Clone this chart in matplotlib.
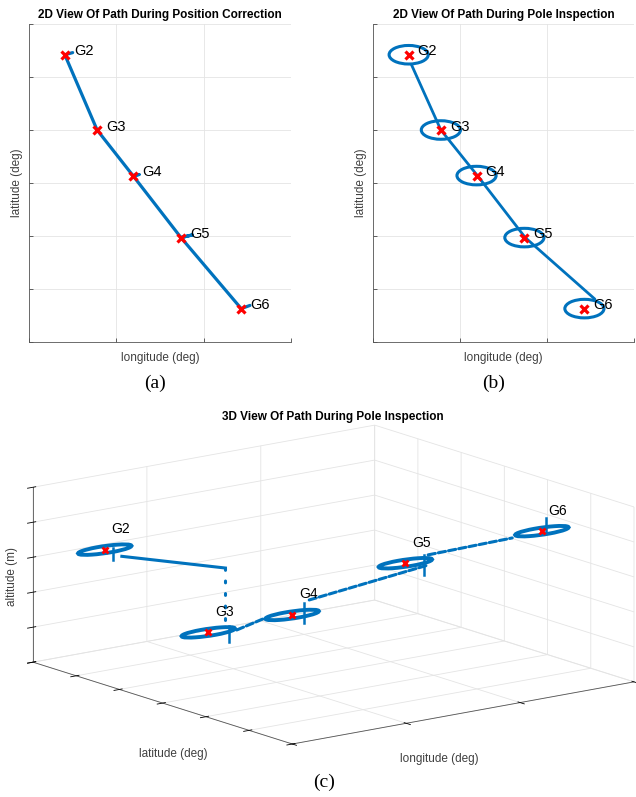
import numpy as np
import matplotlib
matplotlib.use('Agg')
import matplotlib.pyplot as plt
from matplotlib.patches import Ellipse
from mpl_toolkits.mplot3d import art3d, proj3d

plt.rcParams['font.family'] = ['Liberation Sans', 'DejaVu Sans']
plt.rcParams['grid.color'] = '#e4e4e4'
plt.rcParams['grid.linewidth'] = 0.6

BLUE = '#0072BD'
RED = '#FF0000'
GRAY = '#262626'
LABEL = '#404040'

############################### donnees ###############################
# axes sans graduations chiffrees : unites = intervalles de grille
names = ['G2', 'G3', 'G4', 'G5', 'G6']
wp_lon = [0.41, 0.78, 1.19, 1.74, 2.43]
wp_lat = [5.42, 4.00, 3.14, 1.97, 0.63]
wp_alt = [3.20, 1.17, 1.76, 3.37, 4.40]

# (a) trajet correction de position
path_a_lon = [0.50, 0.41, 0.78, 1.19, 1.26, 1.19, 1.74, 1.87, 1.74, 2.43, 2.53]
path_a_lat = [5.46, 5.42, 4.00, 3.14, 3.16, 3.14, 1.97, 2.02, 1.97, 0.63, 0.69]

# (b) trajet inspection (lignes entre les boucles)
path_b_lon = [0.44, 0.78, 1.20, 1.75, 2.55]
path_b_lat = [5.24, 4.00, 3.14, 1.97, 0.81]
loop_w, loop_h = 0.45, 0.35

# (c) transits 3D
leg_lon = [[0.56, 0.93], [0.93, 0.93], [1.03, 0.95], [1.34, 1.94], [1.94, 2.17]]
leg_lat = [[5.42, 4.00], [4.00, 4.00], [4.00, 3.14], [3.14, 1.97], [1.97, 0.63]]
leg_alt = [[2.92, 2.92], [2.92, 1.17], [1.09, 1.81], [2.10, 3.20], [3.49, 4.36]]
leg_style = ['-', (0, (0.6, 3.5)), (0, (2.4, 1.0)), (0, (2.4, 1.0)), (0, (2.4, 1.0))]
# petits sauts verticaux pres des boucles
spk_lon = [0.48, 0.96, 1.29, 1.905, 2.47]
spk_lat = [5.42, 4.00, 3.14, 1.97, 0.63]
spk_z0 = [3.20, 0.80, 1.47, 2.93, 4.35]
spk_z1 = [2.86, 1.25, 2.04, 3.50, 4.75]

############################### figure ###############################
W, H = 636, 797
fig = plt.figure(figsize=(W / 100, H / 100), dpi=100)


def style_2d(ax, title):
    ax.set_xlim(0, 3)
    ax.set_ylim(0, 6)
    ax.set_xticks(range(4))
    ax.set_yticks(range(7))
    ax.set_xticklabels([])
    ax.set_yticklabels([])
    ax.tick_params(direction='in', length=3, width=0.5, color=GRAY)
    ax.grid(True, color='#e4e4e4', linewidth=0.6)
    ax.set_axisbelow(True)
    for s in ['top', 'right']:
        ax.spines[s].set_visible(False)
    for s in ['left', 'bottom']:
        ax.spines[s].set_color('#555555')
        ax.spines[s].set_linewidth(0.6)
    ax.set_title(title, fontsize=8.5, fontweight='bold', pad=4)
    ax.set_xlabel('longitude (deg)', fontsize=8.5, color=LABEL, labelpad=4)
    ax.set_ylabel('latitude (deg)', fontsize=8.5, color=LABEL, labelpad=1)


def label_wp(ax):
    ax.plot(wp_lon, wp_lat, 'x', color=RED, ms=6, mew=2.3, zorder=5)
    for n, x, y in zip(names, wp_lon, wp_lat):
        ax.annotate(n, (x, y), xytext=(6.5, 2.5), textcoords='offset points',
                    ha='left', va='center', fontsize=10.5, zorder=6)


# (c) d'abord, sous les deux vues 2D
ax3 = fig.add_axes([0, 0, 1, W / H], projection='3d', proj_type='ortho',
                   computed_zorder=False)
ax3.set_zorder(0)
ax3.patch.set_visible(False)
ax3.set_box_aspect((1, 1, 0.42))
ax3.view_init(elev=13.86, azim=-127.2)
ax3.set_xlim(0, 3)
ax3.set_ylim(0, 6)
ax3.set_zlim(0, 5)
ax3.set_xticks(range(4))
ax3.set_yticks(range(7))
ax3.set_zticks(range(6))
ax3.set_xticklabels([])
ax3.set_yticklabels([])
ax3.set_zticklabels([])
for t in (ax3.title, ax3._left_title, ax3._right_title):
    t.set_visible(False)
for axis in (ax3.xaxis, ax3.yaxis, ax3.zaxis):
    axis.label.set_visible(False)
    axis.offsetText.set_visible(False)
    axis.set_pane_color((1, 1, 1, 0))
    axis.pane.set_edgecolor('#dedede')
    axis.line.set_color('#555555')
    axis.line.set_linewidth(0.6)
    axis._axinfo['tick']['color'] = '#555555'
    axis._axinfo['tick']['linewidth'] = {True: 0.6, False: 0.5}
    axis._axinfo['grid']['color'] = '#e4e4e4'
    axis._axinfo['grid']['linewidth'] = 0.6

for lo, la, al, ls in zip(leg_lon, leg_lat, leg_alt, leg_style):
    ax3.plot(lo, la, al, color=BLUE, lw=2.2, ls=ls, dash_capstyle='round')
for x, y, z in zip(wp_lon, wp_lat, wp_alt):
    e = Ellipse((x, y), loop_w, loop_h, fill=False, ec=BLUE, lw=2.8)
    ax3.add_patch(e)
    art3d.pathpatch_2d_to_3d(e, z=z, zdir='z')
for x, y, z0, z1 in zip(spk_lon, spk_lat, spk_z0, spk_z1):
    ax3.plot([x, x], [y, y], [z0, z1], color=BLUE, lw=1.8)
ax3.plot(wp_lon, wp_lat, wp_alt, 'x', color=RED, ms=5, mew=2.0, zorder=5)

# mise a l'echelle de la boite 3D sur la zone voulue
fig.canvas.draw()
cx, cy, cz = np.meshgrid([0, 3], [0, 6], [0, 5])
px, py, _ = proj3d.proj_transform(cx.ravel(), cy.ravel(), cz.ravel(), ax3.M)
pts = ax3.transData.transform(np.column_stack([px, py]))
(x0, y0), (x1, y1) = pts.min(axis=0), pts.max(axis=0)
s = (634 - 33) / (x1 - x0)
side = W * s
left = 33 - s * x0
bottom = (H - 744) - s * y0
ax3.set_position([left / W, bottom / H, side / W, side / H])

# etiquettes des points (projetees, en texte 2D)
tx, ty, _ = proj3d.proj_transform(np.array(wp_lon) + 0.06, np.array(wp_lat),
                                  np.array(wp_alt) + 0.55, ax3.get_proj())
for n, x, y in zip(names, tx, ty):
    ax3.text2D(x, y, n, transform=ax3.transData, ha='left', va='center',
               fontsize=10, zorder=6)

# (a)
ax1 = fig.add_axes([29 / W, 1 - 342 / H, 262 / W, 318 / H])
ax1.set_zorder(1)
ax1.plot(path_a_lon, path_a_lat, color=BLUE, lw=2.3, solid_capstyle='round',
         solid_joinstyle='round')
label_wp(ax1)
style_2d(ax1, '2D View Of Path During Position Correction')

# (b)
ax2 = fig.add_axes([373 / W, 1 - 342 / H, 261 / W, 318 / H])
ax2.set_zorder(1)
ax2.plot(path_b_lon, path_b_lat, color=BLUE, lw=2.0, solid_capstyle='round')
for x, y in zip(wp_lon, wp_lat):
    ax2.add_patch(Ellipse((x, y), loop_w, loop_h, fill=False, ec=BLUE, lw=2.2))
label_wp(ax2)
style_2d(ax2, '2D View Of Path During Pole Inspection')

# titres et etiquettes de la vue 3D (horizontales comme l'original)
fig.text(333 / W, 1 - 420 / H, '3D View Of Path During Pole Inspection',
         ha='center', va='baseline', fontsize=8.5, fontweight='bold')
fig.text(173 / W, 1 - 754 / H, 'latitude (deg)', ha='center', va='center',
         fontsize=8.5, color=LABEL)
fig.text(439 / W, 1 - 759 / H, 'longitude (deg)', ha='center', va='center',
         fontsize=8.5, color=LABEL)
fig.text(12 / W, 1 - 576 / H, 'altitude (m)', ha='center', va='center',
         rotation=90, fontsize=8.5, color=LABEL)

serif = ['Liberation Serif', 'DejaVu Serif']
fig.text(155 / W, 1 - 383 / H, '(a)', ha='center', va='center', fontsize=14, family=serif)
fig.text(494 / W, 1 - 383 / H, '(b)', ha='center', va='center', fontsize=14, family=serif)
fig.text(324 / W, 1 - 782 / H, '(c)', ha='center', va='center', fontsize=14, family=serif)

fig.savefig('out.png', dpi=100)
